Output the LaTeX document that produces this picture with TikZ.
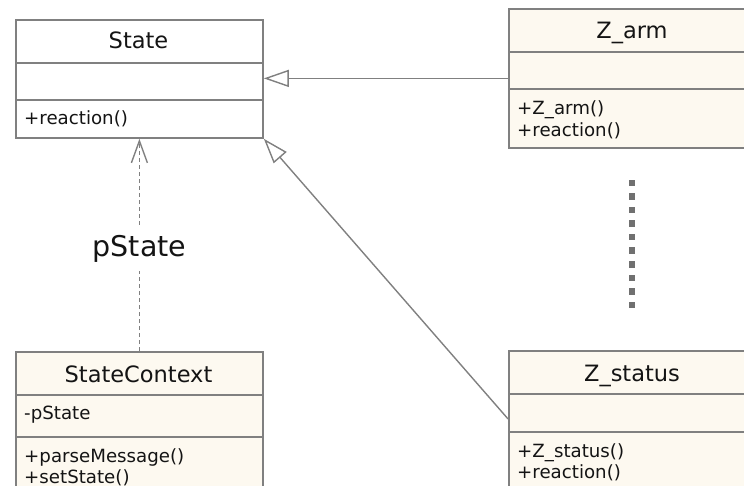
\documentclass[tikz,border=0pt]{standalone}
\usepackage{fontspec}
\setmainfont{DejaVu Sans}
\usetikzlibrary{arrows.meta}
\definecolor{umlline}{HTML}{808080}
\definecolor{umlfill}{HTML}{FDF9F0}
\definecolor{umltext}{HTML}{141414}
\definecolor{dotgray}{HTML}{707070}
\begin{document}
\begin{tikzpicture}[x=1pt,y=-1pt,
  classbox/.style={draw=umlline, line width=1.8pt, fill=umlfill, inner sep=0pt,
    anchor=north west},
  divider/.style={draw=umlline, line width=1.8pt},
  title/.style={anchor=base, inner sep=0pt, text=umltext,
    font=\fontsize{22.5}{26}\selectfont},
  member/.style={anchor=base west, inner sep=0pt, text=umltext,
    font=\fontsize{18.2}{21}\selectfont},
  gen/.style={draw=umlline, line width=1.4pt,
    -{Triangle[open, length=25pt, width=17pt, fill=white]}},
  dep/.style={draw=umlline, line width=1.4pt, dash pattern=on 4pt off 3pt,
    -{Straight Barb[length=22pt, width=16pt]}},
  rolelabel/.style={fill=white, inner sep=8pt, text=umltext,
    font=\fontsize{28.5}{32}\selectfont},
  dotsq/.style={fill=dotgray, minimum size=6.5pt, inner sep=0pt}]
\useasboundingbox (0,0) rectangle (744,486);
\begin{scope}
\clip (0,0) rectangle (744,486);

% class State
\node[classbox, fill=white, minimum width=247pt, minimum height=118pt] (state) at (15,19) {};
\draw[divider] (15,63) -- (262,63);
\draw[divider] (15,100) -- (262,100);
\node[title] (stateT) at (138.5,49) {State};
\node[member] (stateM) at (24,125) {+reaction()};

% class Z_arm
\node[classbox, minimum width=248pt, minimum height=139pt] (zarm) at (508,8) {};
\draw[divider] (508,52) -- (756,52);
\draw[divider] (508,89) -- (756,89);
\node[title] (zarmT) at (632,38.5) {Z\_arm};
\node[member] (zarmM1) at (517,115) {+Z\_arm()};
\node[member] (zarmM2) at (517,137) {+reaction()};

% class StateContext
\node[classbox, minimum width=247pt, minimum height=140pt] (ctx) at (15,351) {};
\draw[divider] (15,395) -- (262,395);
\draw[divider] (15,437) -- (262,437);
\node[title] (ctxT) at (138.5,382) {StateContext};
\node[member] (ctxA) at (24,419) {-pState};
\node[member] (ctxM1) at (24,462) {+parseMessage()};
\node[member] (ctxM2) at (24,483) {+setState()};

% class Z_status
\node[classbox, minimum width=248pt, minimum height=136pt] (zstatus) at (508,350) {};
\draw[divider] (508,394) -- (756,394);
\draw[divider] (508,432) -- (756,432);
\node[title] (zstatusT) at (632,381) {Z\_status};
\node[member] (zstatusM1) at (517,457) {+Z\_status()};
\node[member] (zstatusM2) at (517,478) {+reaction()};

% generalisations and the pState association
\draw[gen] (zarm.west) -- (zarm.west -| state.east);
\draw[gen] (zstatus.west) -- (state.south east);
\draw[dep] (ctx.north) -- node[rolelabel, pos=0.48] (role) {pState} (state.south);

% ellipsis between the derived states
\foreach \i in {0,...,9}
  \node[dotsq] (dot\i) at (632,{183+13.55*\i}) {};
\end{scope}
\end{tikzpicture}
\end{document}
